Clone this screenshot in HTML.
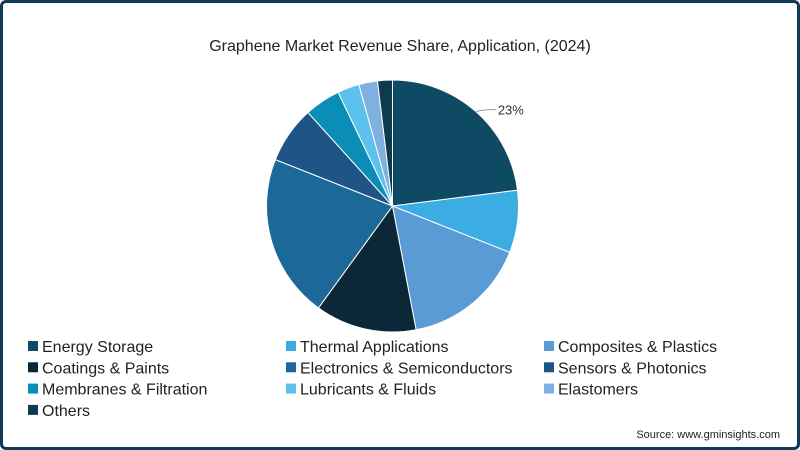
<!DOCTYPE html>
<html><head><meta charset="utf-8"><style>
body{margin:0;width:800px;height:450px;overflow:hidden;background:#fff;font-family:"Liberation Sans",sans-serif}
#frame{position:absolute;left:0;top:0;width:794px;height:444px;border:3px solid #0f3b57;border-radius:6px;background:#fff}
</style></head><body>
<div id="frame"></div>
<svg id="chart" width="800" height="450" style="position:absolute;left:0;top:0">
<text x="400" y="51" text-anchor="middle" font-size="16" fill="#222">Graphene Market Revenue Share, Application, (2024)</text>
<g id="slices"></g><g id="legend"></g>
<text x="780" y="438" text-anchor="end" font-size="11" fill="#222">Source: www.gminsights.com</text>
</svg>
<script>
const categories=["Energy Storage","Thermal Applications","Composites & Plastics","Coatings & Paints","Electronics & Semiconductors","Sensors & Photonics","Membranes & Filtration","Lubricants & Fluids","Elastomers","Others"];
const values=[23,8,16,13,21,7.3,4.6,2.8,2.4,1.9];
const colors=["#0e4a64","#3badE2","#5b9bd5","#0b2738","#1c6898","#1f5586","#0a8db6","#5cc1ec","#80b0df","#0e3a4f"];
const ns="http://www.w3.org/2000/svg";
const cx=392.5,cy=206,r=126;
const total=values.reduce((a,b)=>a+b,0);
const gs=document.getElementById('slices');
let a=0;
function pt(ang){return [cx+r*Math.sin(ang),cy-r*Math.cos(ang)];}
values.forEach((v,i)=>{
 const a2=a+v/total*2*Math.PI;
 const p1=pt(a),p2=pt(a2);
 const p=document.createElementNS(ns,'path');
 p.setAttribute('d',`M${cx},${cy}L${p1[0]},${p1[1]}A${r},${r} 0 ${a2-a>Math.PI?1:0} 1 ${p2[0]},${p2[1]}Z`);
 p.setAttribute('fill',colors[i]);p.setAttribute('stroke','#fff');p.setAttribute('stroke-width','1');
 
 
 gs.appendChild(p);
 if(i===0){
  const q=pt((a+a2)/2);
  const l=document.createElementNS(ns,'path');
  l.setAttribute('d',`M${q[0]},${q[1]}Q${q[0]+8},${q[1]-2} ${q[0]+20},${q[1]-2}`);
  l.setAttribute('stroke','#999');l.setAttribute('fill','none');
  
  
  gs.appendChild(l);
  const t=document.createElementNS(ns,'text');
  t.setAttribute('x',q[0]+22);t.setAttribute('y',q[1]+3);t.setAttribute('font-size','13');t.setAttribute('fill','#333');
  t.textContent=Math.round(v)+'%';
  
  
  gs.appendChild(t);
 }
 a=a2;
});
const gl=document.getElementById('legend');
categories.forEach((c,i)=>{
 const col=i%3,row=Math.floor(i/3);
 const x=[28,286,544][col],y=346+row*21.3;
 const g=document.createElementNS(ns,'g');
 
 
 const s=document.createElementNS(ns,'rect');
 s.setAttribute('x',x);s.setAttribute('y',y-5);s.setAttribute('width',10);s.setAttribute('height',10);s.setAttribute('fill',colors[i]);
 const t=document.createElementNS(ns,'text');
 t.setAttribute('x',x+14);t.setAttribute('y',y+6);t.setAttribute('font-size','16');t.setAttribute('fill','#222');
 t.textContent=c;
 g.appendChild(s);g.appendChild(t);gl.appendChild(g);
});
</script>
</body></html>
